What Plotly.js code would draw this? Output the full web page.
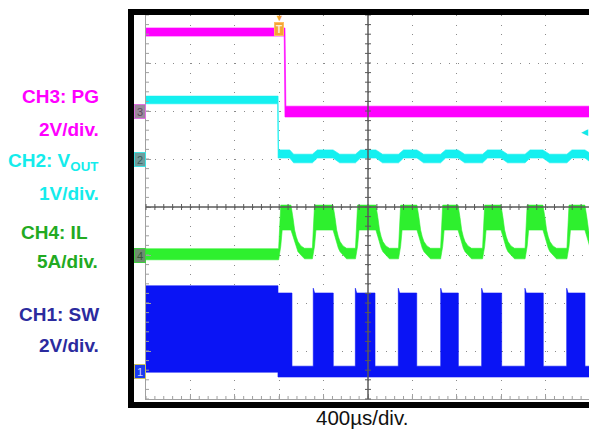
<!DOCTYPE html>
<html>
<head>
<meta charset="utf-8">
<script src="https://cdn.plot.ly/plotly-3.0.1.min.js"></script>
<style>
  html, body { margin: 0; padding: 0; background: #ffffff; overflow: hidden; }
  #chart { width: 600px; height: 429px; }
</style>
</head>
<body>
<div id="chart"></div>
<script>
// ---------------- DATA (read from the scope capture) ----------------
// time axis: microseconds relative to trigger, 400 us/div, trigger at 3rd division
const timeRange = [-1200, 2800];
const timePerDiv = 400;
const triggerTime = 0;

// CH3: PG (V), noise band envelopes
const pgTime = [-1200, 45, 52, 60, 2800];
const pgHi   = [3.46, 3.46, 3.46, 0.2, 0.2];
const pgLo   = [3.12, 3.12, -0.25, -0.25, -0.25];

// CH2: VOUT (V), noise band envelopes
const voutTime = [-1200, -14, -10, -6, 95, 130,
  299, 344, 485, 545,
  687, 732, 871, 931,
  1075, 1120, 1241, 1301,
  1454, 1499, 1611, 1671,
  1832, 1877, 1998, 2058,
  2215, 2260, 2376, 2436,
  2592, 2637, 2754, 2814];
const voutHi = [1.31, 1.31, 1.31, 0.19, 0.19, 0.10,
  0.10, 0.19, 0.19, 0.10,
  0.10, 0.19, 0.19, 0.10,
  0.10, 0.19, 0.19, 0.10,
  0.10, 0.19, 0.19, 0.10,
  0.10, 0.19, 0.19, 0.10,
  0.10, 0.19, 0.19, 0.10,
  0.10, 0.19, 0.19, 0.10];
const voutLo = [1.15, 1.15, 0.02, 0.02, 0.02, -0.08,
  -0.08, 0.02, 0.02, -0.08,
  -0.08, 0.02, 0.02, -0.08,
  -0.08, 0.02, 0.02, -0.08,
  -0.08, 0.02, 0.02, -0.08,
  -0.08, 0.02, 0.02, -0.08,
  -0.08, 0.02, 0.02, -0.08,
  -0.08, 0.02, 0.02, -0.08];

// CH4: IL (A), noise band envelopes
const ilTime = [-1200,
  -5, 14, 27, 106, 124, 139, 154, 169, 196, 228,
  299, 318, 331, 485, 503, 518, 533, 548, 575, 607,
  687, 706, 719, 871, 889, 904, 919, 934, 961, 993,
  1075, 1094, 1107, 1241, 1259, 1274, 1289, 1304, 1331, 1363,
  1454, 1473, 1486, 1611, 1629, 1644, 1659, 1674, 1701, 1733,
  1832, 1851, 1864, 1998, 2016, 2031, 2046, 2061, 2088, 2120,
  2215, 2234, 2247, 2376, 2394, 2409, 2424, 2439, 2466, 2498,
  2592, 2611, 2624, 2754, 2772, 2787, 2802, 2817, 2844, 2876];
const ilHi = [0.65,
  0.65, 5.2, 5.2, 5.2, 3.9, 2.6, 1.9, 1.4, 0.95, 0.7,
  0.7, 5.2, 5.2, 5.2, 3.9, 2.6, 1.9, 1.4, 0.95, 0.7,
  0.7, 5.2, 5.2, 5.2, 3.9, 2.6, 1.9, 1.4, 0.95, 0.7,
  0.7, 5.2, 5.2, 5.2, 3.9, 2.6, 1.9, 1.4, 0.95, 0.7,
  0.7, 5.2, 5.2, 5.2, 3.9, 2.6, 1.9, 1.4, 0.95, 0.7,
  0.7, 5.2, 5.2, 5.2, 3.9, 2.6, 1.9, 1.4, 0.95, 0.7,
  0.7, 5.2, 5.2, 5.2, 3.9, 2.6, 1.9, 1.4, 0.95, 0.7,
  0.7, 5.2, 5.2, 5.2, 3.9, 2.6, 1.9, 1.4, 0.95, 0.7];
const ilLo = [-0.5,
  -0.5, 0.9, 2.6, 2.6, 1.9, 1.25, 0.7, 0.35, 0.0, -0.4,
  -0.4, 0.9, 2.6, 2.6, 1.9, 1.25, 0.7, 0.35, 0.0, -0.4,
  -0.4, 0.9, 2.6, 2.6, 1.9, 1.25, 0.7, 0.35, 0.0, -0.4,
  -0.4, 0.9, 2.6, 2.6, 1.9, 1.25, 0.7, 0.35, 0.0, -0.4,
  -0.4, 0.9, 2.6, 2.6, 1.9, 1.25, 0.7, 0.35, 0.0, -0.4,
  -0.4, 0.9, 2.6, 2.6, 1.9, 1.25, 0.7, 0.35, 0.0, -0.4,
  -0.4, 0.9, 2.6, 2.6, 1.9, 1.25, 0.7, 0.35, 0.0, -0.4,
  -0.4, 0.9, 2.6, 2.6, 1.9, 1.25, 0.7, 0.35, 0.0, -0.4];

// CH1: SW (V), switching envelopes
const swTime = [-1200, -11, -11, 115, 115,
  307, 307, 319, 487, 487,
  686, 686, 698, 863, 863,
  1073, 1073, 1085, 1239, 1239,
  1455, 1455, 1467, 1614, 1614,
  1824, 1824, 1836, 2004, 2004,
  2214, 2214, 2226, 2379, 2379,
  2590, 2590, 2602, 2755, 2755,
  2800];
const swHi = [3.55, 3.55, 3.25, 3.25, 0.2,
  0.2, 3.45, 3.25, 3.25, 0.2,
  0.2, 3.45, 3.25, 3.25, 0.2,
  0.2, 3.45, 3.25, 3.25, 0.2,
  0.2, 3.45, 3.25, 3.25, 0.2,
  0.2, 3.45, 3.25, 3.25, 0.2,
  0.2, 3.45, 3.25, 3.25, 0.2,
  0.2, 3.45, 3.25, 3.25, 0.2,
  0.2];
const swLo = [-0.05, -0.05, -0.25, -0.25, -0.25,
  -0.25, -0.25, -0.25, -0.25, -0.25,
  -0.25, -0.25, -0.25, -0.25, -0.25,
  -0.25, -0.25, -0.25, -0.25, -0.25,
  -0.25, -0.25, -0.25, -0.25, -0.25,
  -0.25, -0.25, -0.25, -0.25, -0.25,
  -0.25, -0.25, -0.25, -0.25, -0.25,
  -0.25, -0.25, -0.25, -0.25, -0.25,
  -0.25];

const ch2TriggerLevel = 0.56;

// channel settings: scale per division and ground offset (divisions from screen centre)
const channels = {
  ch3: { scale: 2, offsetDiv: 2.0,     color: '#ff00ff', text: '#ff00ff', label: 'CH3: PG',  perDiv: '2V/div.' },
  ch2: { scale: 1, offsetDiv: 1.0,     color: '#14f0f0', text: '#14ecec', label: 'CH2: V<sub>OUT</sub>', perDiv: '1V/div.' },
  ch4: { scale: 5, offsetDiv: -1.0,    color: '#2ef02e', text: '#22aa22', label: 'CH4: IL',  perDiv: '5A/div.' },
  ch1: { scale: 2, offsetDiv: -3.4167, color: '#0a14f5', text: '#2b2b9e', label: 'CH1: SW',  perDiv: '2V/div.' }
};

// ---------------- BUILD ----------------
function chRange(c) { return [(-4 - c.offsetDiv) * c.scale, (4 - c.offsetDiv) * c.scale]; }

function band(t, lo, hi, color, yax) {
  return [
    { x: t, y: lo, xaxis: 'x', yaxis: yax, mode: 'lines', line: { color: color, width: 0.6 }, hoverinfo: 'skip' },
    { x: t, y: hi, xaxis: 'x', yaxis: yax, mode: 'lines', line: { color: color, width: 0.6 }, fill: 'tonexty', fillcolor: color, hoverinfo: 'skip' }
  ];
}

// CH2 (1 V/div) uses the main y axis, so its integer-volt grid is the division graticule
const traces = [].concat(
  band(voutTime, voutLo, voutHi, channels.ch2.color, 'y'),
  band(swTime, swLo, swHi, channels.ch1.color, 'y4'),
  band(ilTime, ilLo, ilHi, channels.ch4.color, 'y3'),
  band(pgTime, pgLo, pgHi, channels.ch3.color, 'y2')
);

const FONT = 'Liberation Sans, Arial, Helvetica, sans-serif';
const W = 444, H = 384, L = 146, T = 15;
const px = v => (v - L) / W;          // page x pixel -> paper
const py = v => (T + H - v) / H;      // page y pixel -> paper

function chAxis(c) { return { overlaying: 'y', anchor: 'x', visible: false, range: chRange(c), fixedrange: true }; }

const gridCol = '#8a8a8a';
const axisCol = '#5a5a5a';
const edgeCol = '#a0a0a0';

// graticule tick paths (1/5 division marks) along the centre lines and the left/bottom edges
const nDivX = 10, nDivY = 8, minor = 5;
let tickPath = '', edgePath = '';
const tx = 3 / W, ty = 3 / H;
for (let k = 0; k <= nDivX * minor; k++) {
  const x = k / (nDivX * minor);
  tickPath += 'M' + x + ',' + (0.5 - ty) + 'L' + x + ',' + (0.5 + ty);
  edgePath += 'M' + x + ',0L' + x + ',' + ty;
}
for (let k = 0; k <= nDivY * minor; k++) {
  const y = k / (nDivY * minor);
  tickPath += 'M' + (0.5 - tx) + ',' + y + 'L' + (0.5 + tx) + ',' + y;
  edgePath += 'M0,' + y + 'L' + tx + ',' + y;
}

const layout = {
  width: 600, height: 429,
  margin: { l: L, r: 600 - L - W, t: T, b: 429 - T - H, pad: 0 },
  paper_bgcolor: '#ffffff', plot_bgcolor: '#ffffff',
  showlegend: false,
  font: { family: FONT },
  xaxis: {
    range: timeRange, tick0: timeRange[0], dtick: timePerDiv,
    showgrid: true, gridcolor: gridCol, gridwidth: 1, griddash: '1px,8.6px',
    zeroline: false, showticklabels: false,
    showline: true, linecolor: edgeCol, linewidth: 1,
    ticks: 'inside', ticklen: 5, tickcolor: edgeCol,
    fixedrange: true
  },
  yaxis: {
    range: chRange(channels.ch2), tick0: 0, dtick: channels.ch2.scale,
    showgrid: true, gridcolor: gridCol, gridwidth: 1, griddash: '1px,7.9px',
    zeroline: false, showticklabels: false,
    showline: true, linecolor: edgeCol, linewidth: 1.5,
    ticks: 'inside', ticklen: 5, tickcolor: edgeCol,
    fixedrange: true
  },
  yaxis2: chAxis(channels.ch3),
  yaxis3: chAxis(channels.ch4),
  yaxis4: chAxis(channels.ch1),
  shapes: [
    { type: 'path', xref: 'paper', yref: 'paper', path: edgePath, line: { color: edgeCol, width: 1 }, layer: 'above' },
    { type: 'line', xref: 'paper', yref: 'paper', x0: 0, x1: 1, y0: 0.5, y1: 0.5, line: { color: axisCol, width: 1.5 }, layer: 'above' },
    { type: 'line', xref: 'paper', yref: 'paper', x0: 0.5, x1: 0.5, y0: 0, y1: 1, line: { color: axisCol, width: 1.5 }, layer: 'above' },
    { type: 'path', xref: 'paper', yref: 'paper', path: tickPath, line: { color: axisCol, width: 1 }, layer: 'above' },
    { type: 'rect', xref: 'paper', yref: 'paper', x0: px(131), x1: px(640), y0: py(405), y1: py(12),
      line: { color: '#000000', width: 6 }, fillcolor: 'rgba(0,0,0,0)', layer: 'above' }
  ],
  annotations: []
};

// channel labels on the left
const labelSpec = [
  { c: channels.ch3, y1: 96.5, y2: 129, r1: 100, r2: 100 },
  { c: channels.ch2, y1: 161.5, y2: 193.5, r1: 99, r2: 100 },
  { c: channels.ch4, y1: 233, y2: 261.5, r1: 89, r2: 99 },
  { c: channels.ch1, y1: 314, y2: 345, r1: 100, r2: 100 }
];
labelSpec.forEach(s => {
  layout.annotations.push({ xref: 'paper', yref: 'paper', x: px(s.r1), y: py(s.y1), xanchor: 'right', yanchor: 'middle',
    text: '<b>' + s.c.label + '</b>', showarrow: false, borderpad: 0, font: { family: FONT, size: 19, color: s.c.text } });
  layout.annotations.push({ xref: 'paper', yref: 'paper', x: px(s.r2), y: py(s.y2), xanchor: 'right', yanchor: 'middle',
    text: '<b>' + s.c.perDiv + '</b>', showarrow: false, borderpad: 0, font: { family: FONT, size: 19, color: s.c.text } });
});

// time base label
layout.annotations.push({ xref: 'paper', yref: 'paper', x: px(362), y: py(417), xanchor: 'center', yanchor: 'middle',
  text: '400µs/div.', showarrow: false, borderpad: 0, font: { family: FONT, size: 20.5, color: '#111111' } });

// ground-level badges
const badges = [
  { n: '3', ax: 'y2', bg: '#9c889c', bd: '#e070e0', fc: '#5e4a5e' },
  { n: '2', ax: 'y',  bg: '#6f9c9c', bd: '#40e0e0', fc: '#3a5e5e' },
  { n: '4', ax: 'y3', bg: '#6e8e6e', bd: '#40d040', fc: '#3a5a3a' },
  { n: '1', ax: 'y4', bg: '#1a3cf0', bd: '#c8c060', fc: '#c8d0ff' }
];
badges.forEach(b => {
  layout.annotations.push({ xref: 'paper', yref: b.ax, x: px(140), y: 0, xanchor: 'center', yanchor: 'middle',
    text: b.n, showarrow: false, bgcolor: b.bg, bordercolor: b.bd, borderwidth: 1, borderpad: 0,
    width: 10, height: 13, font: { family: FONT, size: 11, color: b.fc } });
});

// trigger marker
layout.annotations.push({ xref: 'x', yref: 'paper', x: triggerTime, y: py(18), xanchor: 'center', yanchor: 'middle',
  text: '▼', showarrow: false, borderpad: 0, font: { family: FONT, size: 9, color: '#f5a030' } });
layout.annotations.push({ xref: 'x', yref: 'paper', x: triggerTime, y: py(29), xanchor: 'center', yanchor: 'middle',
  text: '<b>T</b>', showarrow: false, bgcolor: '#f5a536', bordercolor: '#ffbe60', borderwidth: 1, borderpad: 0,
  width: 8, height: 12, font: { family: FONT, size: 10, color: '#fff2d6' } });

// CH2 trigger-level arrow at the right edge
layout.annotations.push({ xref: 'paper', yref: 'y', x: px(580), y: ch2TriggerLevel, xanchor: 'left', yanchor: 'middle',
  text: '◀', showarrow: false, borderpad: 0, font: { family: FONT, size: 9, color: '#14e8e8' } });

Plotly.newPlot('chart', traces, layout, { staticPlot: true, displayModeBar: false });
</script>
</body>
</html>
